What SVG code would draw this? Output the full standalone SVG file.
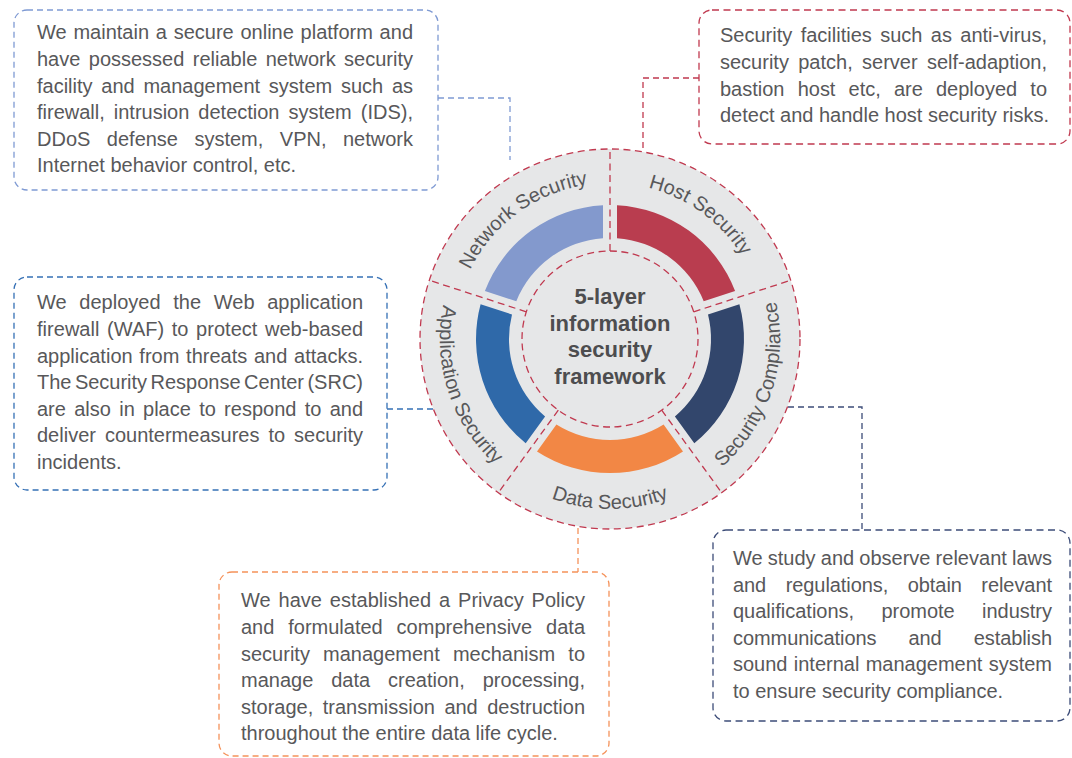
<svg xmlns="http://www.w3.org/2000/svg" width="1072" height="758" viewBox="0 0 1072 758">
<defs>
<style>
.body{font-family:"Liberation Sans",Arial,sans-serif;font-size:20px;fill:#58585a}
.lbl{font-family:"Liberation Sans",Arial,sans-serif;font-size:20px;fill:#58585a}
.ctr{font-family:"Liberation Sans",Arial,sans-serif;font-size:22px;font-weight:bold;fill:#4d4d4f}
.box{fill:#ffffff;stroke-width:1.3;stroke-dasharray:6 4}
.con{fill:none;stroke-width:1.3;stroke-dasharray:6 4}
.rd{fill:none;stroke:#c0394f;stroke-width:1.3;stroke-dasharray:7 4.5}
</style>
<path id="pNet" d="M469.8,407.4 A156,156 0 0 1 718.4,226.8"/>
<path id="pHost" d="M501.6,226.8 A156,156 0 0 1 750.2,407.4"/>
<path id="pComp" d="M586.3,507.4 A170,170 0 0 0 689.8,188.9"/>
<path id="pData" d="M442.6,368.5 A170,170 0 0 0 777.4,368.5"/>
<path id="pApp" d="M530.2,188.9 A170,170 0 0 0 633.7,507.4"/>
</defs>
<rect width="1072" height="758" fill="#ffffff"/>

<g id="connectors">
<path class="con" stroke="#7f9ad3" d="M438,98 H510 V160"/>
<path class="con" stroke="#c0394f" d="M699,78 H643 V150"/>
<path class="con" stroke="#3570b5" d="M387,409 H433"/>
<path class="con" stroke="#f5925a" d="M578,528 V572"/>
<path class="con" stroke="#3c4c78" d="M788,407 H862 V530"/>
</g>

<g id="framework">
<circle cx="610" cy="339" r="190" fill="#e6e7e8"/>
<circle class="rd" cx="610" cy="339" r="190"/>
<circle class="rd" cx="610" cy="339" r="88"/>
<path fill="#8399cd" d="M484.9,291.0 A134,134 0 0 1 603.0,205.2 L603.0,238.2 A101,101 0 0 0 516.3,301.2 Z"/>
<path fill="#b93d4f" d="M617.0,205.2 A134,134 0 0 1 735.1,291.0 L703.7,301.2 A101,101 0 0 0 617.0,238.2 Z"/>
<path fill="#32466c" d="M739.4,304.3 A134,134 0 0 1 694.3,443.2 L674.9,416.4 A101,101 0 0 0 708.0,314.5 Z"/>
<path fill="#f28745" d="M683.0,451.4 A134,134 0 0 1 537.0,451.4 L556.4,424.6 A101,101 0 0 0 663.6,424.6 Z"/>
<path fill="#2f69a9" d="M525.7,443.2 A134,134 0 0 1 480.6,304.3 L512.0,314.5 A101,101 0 0 0 545.1,416.4 Z"/>
<path class="rd" d="M610,251 L610,149 M693.7,311.8 L790.7,280.3 M661.7,410.2 L721.7,492.7 M558.3,410.2 L498.3,492.7 M526.3,311.8 L429.3,280.3"/>
<text class="lbl"><textPath href="#pNet" startOffset="50%" text-anchor="middle">Network Security</textPath></text>
<text class="lbl"><textPath href="#pHost" startOffset="50%" text-anchor="middle">Host Security</textPath></text>
<text class="lbl"><textPath href="#pComp" startOffset="50%" text-anchor="middle">Security Compliance</textPath></text>
<text class="lbl"><textPath href="#pData" startOffset="50%" text-anchor="middle">Data Security</textPath></text>
<text class="lbl"><textPath href="#pApp" startOffset="50%" text-anchor="middle">Application Security</textPath></text>
<g class="ctr" text-anchor="middle">
<text x="610" y="304">5-layer</text>
<text x="610" y="330.5">information</text>
<text x="610" y="357">security</text>
<text x="610" y="383.5">framework</text>
</g>
</g>

<g id="network-box">
<rect class="box" stroke="#7f9ad3" x="14" y="10" width="424" height="180" rx="13"/>
<g class="body">
<text x="37" y="39.3" word-spacing="1.17" textLength="376" lengthAdjust="spacing">We maintain a secure online platform and</text>
<text x="37" y="65.9" word-spacing="2.85" textLength="376" lengthAdjust="spacing">have possessed reliable network security</text>
<text x="37" y="92.5" word-spacing="3.18" textLength="376" lengthAdjust="spacing">facility and management system such as</text>
<text x="37" y="119.1" word-spacing="3.43" textLength="376" lengthAdjust="spacing">firewall, intrusion detection system (IDS),</text>
<text x="37" y="145.7" word-spacing="10.9" textLength="376" lengthAdjust="spacing">DDoS defense system, VPN, network</text>
<text x="37" y="172.3">Internet behavior control, etc.</text>
</g>
</g>

<g id="host-box">
<rect class="box" stroke="#c0394f" x="699" y="10" width="371" height="134" rx="13" style="stroke-dasharray:7 4.5"/>
<g class="body">
<text x="720" y="42.3" word-spacing="2.85" textLength="327" lengthAdjust="spacing">Security facilities such as anti-virus,</text>
<text x="720" y="69" word-spacing="3.77" textLength="327" lengthAdjust="spacing">security patch, server self-adaption,</text>
<text x="720" y="95.6" word-spacing="7.58" textLength="327" lengthAdjust="spacing">bastion host etc, are deployed to</text>
<text x="720" y="122.2">detect and handle host security risks.</text>
</g>
</g>

<g id="application-box">
<rect class="box" stroke="#3570b5" x="14" y="277" width="373" height="213" rx="13"/>
<g class="body">
<text x="37" y="309.3" word-spacing="7.02" textLength="326" lengthAdjust="spacing">We deployed the Web application</text>
<text x="37" y="335.9" word-spacing="2.03" textLength="326" lengthAdjust="spacing">firewall (WAF) to protect web-based</text>
<text x="37" y="362.5" word-spacing="1.18" textLength="326" lengthAdjust="spacing">application from threats and attacks.</text>
<text x="37" y="389.1" word-spacing="-2.1" textLength="326" lengthAdjust="spacing">The Security Response Center (SRC)</text>
<text x="37" y="415.7" word-spacing="2.74" textLength="326" lengthAdjust="spacing">are also in place to respond to and</text>
<text x="37" y="442.3" word-spacing="3.43" textLength="326" lengthAdjust="spacing">deliver countermeasures to security</text>
<text x="37" y="468.9">incidents.</text>
</g>
</g>

<g id="data-box">
<rect class="box" stroke="#f5925a" x="219" y="572" width="390" height="184" rx="13"/>
<g class="body">
<text x="241" y="607.3" word-spacing="2.34" textLength="344" lengthAdjust="spacing">We have established a Privacy Policy</text>
<text x="241" y="633.9" word-spacing="8.33" textLength="344" lengthAdjust="spacing">and formulated comprehensive data</text>
<text x="241" y="660.5" word-spacing="7.6" textLength="344" lengthAdjust="spacing">security management mechanism to</text>
<text x="241" y="687.1" word-spacing="12.4" textLength="344" lengthAdjust="spacing">manage data creation, processing,</text>
<text x="241" y="713.7" word-spacing="3.87" textLength="344" lengthAdjust="spacing">storage, transmission and destruction</text>
<text x="241" y="740.3">throughout the entire data life cycle.</text>
</g>
</g>

<g id="compliance-box">
<rect class="box" stroke="#3c4c78" x="713" y="530" width="357" height="191" rx="13" style="stroke-dasharray:7 4.5"/>
<g class="body">
<text x="733" y="565" word-spacing="-0.44" textLength="319" lengthAdjust="spacing">We study and observe relevant laws</text>
<text x="733" y="591.6" word-spacing="14" textLength="319" lengthAdjust="spacing">and regulations, obtain relevant</text>
<text x="733" y="618.2" word-spacing="21.7" textLength="319" lengthAdjust="spacing">qualifications, promote industry</text>
<text x="733" y="644.8" word-spacing="26.6" textLength="319" lengthAdjust="spacing">communications and establish</text>
<text x="733" y="671.4" word-spacing="0.73" textLength="319" lengthAdjust="spacing">sound internal management system</text>
<text x="733" y="698">to ensure security compliance.</text>
</g>
</g>
</svg>
